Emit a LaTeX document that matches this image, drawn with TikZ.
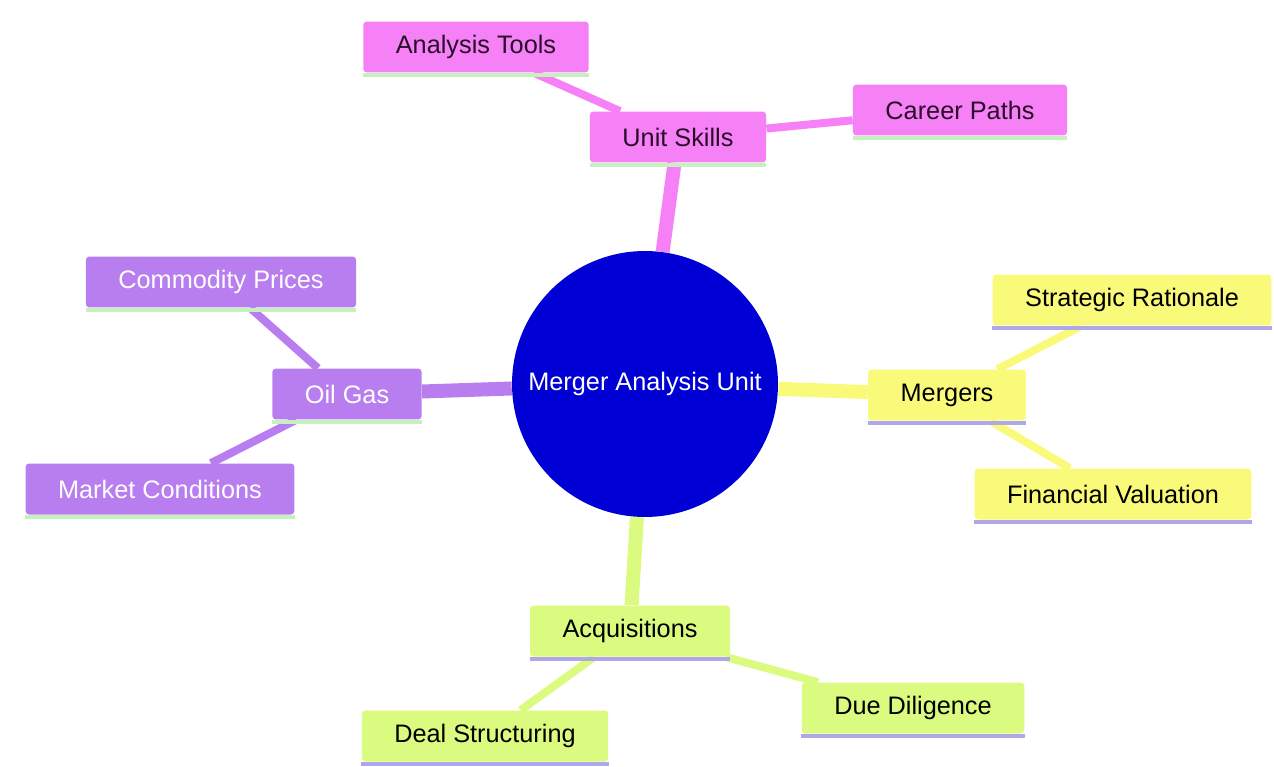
\documentclass[tikz,border=0pt]{standalone}
\usepackage{fontspec}
\setmainfont{Liberation Sans}
\usetikzlibrary{backgrounds}

\definecolor{skillpink}{RGB}{246,128,246}
\definecolor{oilpurple}{RGB}{184,126,240}
\definecolor{mergeyellow}{RGB}{250,250,122}
\definecolor{acqgreen}{RGB}{218,250,128}
\definecolor{hubblue}{RGB}{0,0,212}
\definecolor{ulgreen}{RGB}{198,240,190}
\definecolor{ullilac}{RGB}{176,168,230}
\definecolor{darktext}{RGB}{40,12,40}

\begin{document}
\begin{tikzpicture}[x=0.02cm,y=-0.02cm,
  box/.style={rectangle, rounded corners=2pt, minimum height=1.02cm,
    inner xsep=0.65cm, font=\fontsize{14.4}{17}\selectfont},
  skillbox/.style={box, fill=skillpink, text=darktext},
  oilbox/.style={box, fill=oilpurple, text=white},
  mergebox/.style={box, fill=mergeyellow, text=black},
  acqbox/.style={box, fill=acqgreen, text=black},
  trunk/.style={line width=0.28cm},
  twig/.style={line width=0.16cm},
  uline/.style={line width=2.5pt}]
  \useasboundingbox (0,0) rectangle (1274,767);

  % centre
  \node[circle, fill=hubblue, text=white, minimum size=5.32cm, inner sep=0pt,
    font=\fontsize{14.4}{17}\selectfont] (hub) at (645,384) {Merger Analysis Unit};

  % unit skills
  \node[skillbox] (skills) at (678,137) {Unit Skills};
  \node[skillbox] (tools) at (476,47) {Analysis Tools};
  \node[skillbox] (career) at (960,110) {Career Paths};

  % oil gas
  \node[oilbox] (oilgas) at (347,394) {Oil Gas};
  \node[oilbox] (prices) at (221,282) {Commodity Prices};
  \node[oilbox] (market) at (160,489) {Market Conditions};

  % mergers
  \node[mergebox] (mergers) at (947,395) {Mergers};
  \node[mergebox] (rationale) at (1132,300) {Strategic Rationale};
  \node[mergebox] (valuation) at (1113,494) {Financial Valuation};

  % acquisitions
  \node[acqbox] (acq) at (630,631) {Acquisitions};
  \node[acqbox] (dealstruct) at (485,736) {Deal Structuring};
  \node[acqbox] (diligence) at (913,708) {Due Diligence};

  % underlines
  \foreach \n in {skills,tools,career,oilgas,prices,market}
    \draw[uline, ulgreen] ([yshift=-1.2pt]\n.south west) -- ([yshift=-1.2pt]\n.south east);
  \foreach \n in {mergers,rationale,valuation,acq,dealstruct,diligence}
    \draw[uline, ullilac] ([yshift=-1.2pt]\n.south west) -- ([yshift=-1.2pt]\n.south east);

  % connectors
  \begin{scope}[on background layer]
    \draw[trunk, skillpink] (hub) -- (skills);
    \draw[twig, skillpink] (skills) -- (tools);
    \draw[twig, skillpink] (skills) -- (career);
    \draw[trunk, oilpurple] (hub) -- (oilgas);
    \draw[twig, oilpurple] (oilgas) -- (prices);
    \draw[twig, oilpurple] (oilgas) -- (market);
    \draw[trunk, mergeyellow] (hub) -- (mergers);
    \draw[twig, mergeyellow] (mergers) -- (rationale);
    \draw[twig, mergeyellow] (mergers) -- (valuation);
    \draw[trunk, acqgreen] (hub) -- (acq);
    \draw[twig, acqgreen] (acq) -- (dealstruct);
    \draw[twig, acqgreen] (acq) -- (diligence);
  \end{scope}
\end{tikzpicture}
\end{document}
